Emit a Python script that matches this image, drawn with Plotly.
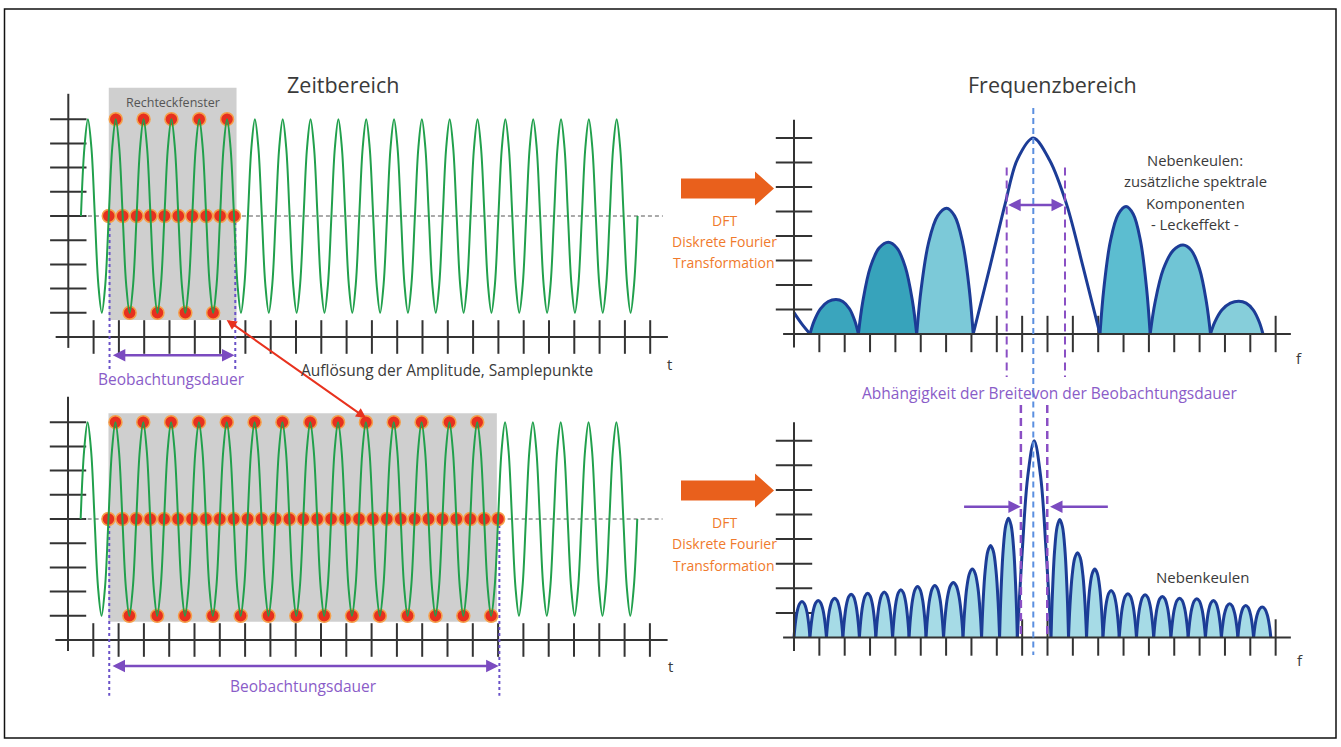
import plotly.graph_objects as go

W, H = 1341, 747
FONT = "Open Sans"

# ======================= data =======================
# --- time domain (axis units: 1 tick = 1) ---
signal_start = 0.5
signal_period = 1.1
signal_periods = 20
wave_levels = [0, 2.83, 4, 2.83, 0, -2.83, -4, -2.83]   # key levels over one period
sample_levels = [0, 4, 0, -4]                          # sampled every quarter period
sample_step = 0.275
window_start = 1.6
window_end_short = 6.55
window_end_long = 17.0
time_ticks = list(range(1, 24))
amp_ticks = [-4, -3, -2, -1, 0, 1, 2, 3, 4]

# --- frequency domain ---
spec_ticks_x = list(range(1, 20))
spec_ticks_y = list(range(1, 9))

# top spectrum (short observation window)
top_tail_f = [0.0, 0.3, 0.63]
top_tail_a = [0.87, 0.42, 0.0]
top_lobe_start = [0.63, 2.54, 4.84, 12.07, 14.05, 16.43]
top_lobe_peak = [1.66, 3.72, 6.02, 13.10, 15.35, 17.55]
top_lobe_end = [2.54, 4.84, 7.07, 14.05, 16.43, 18.50]
top_lobe_height = [1.41, 3.74, 5.13, 5.20, 3.63, 1.34]
top_lobe_fill = ["#3aa5bd", "#37a3bb", "#7cc9d8", "#5cbdd0", "#70c5d5", "#86ceda"]
top_main_f = [7.07, 7.73, 8.32, 8.80, 9.44, 10.08, 10.76, 11.40, 12.07]
top_main_a = [0.0, 2.75, 5.27, 7.10, 8.00, 7.10, 5.27, 2.75, 0.0]

# bottom spectrum (long observation window)
bottom_edges = [0.00, 0.63, 1.28, 1.93, 2.58, 3.23, 3.89, 4.54, 5.21, 5.90, 6.67, 7.40,
                8.11, 8.81, 10.14, 10.83, 11.54, 12.19, 12.83, 13.51, 14.19, 14.87,
                15.55, 16.23, 16.86, 17.51, 18.13, 18.81]
bottom_heights = [1.46, 1.50, 1.60, 1.76, 1.80, 1.85, 1.94, 2.07, 2.11, 2.24, 2.78, 3.74,
                  4.85, 8.00, 4.80, 3.45, 2.78, 1.91, 1.78, 1.74, 1.67, 1.60, 1.58, 1.50,
                  1.37, 1.30, 1.24]
bottom_main_index = 13

# arch profile of a lobe (fraction of half-width -> fraction of height)
lobe_profile_x = [0, 0.15, 0.4, 0.7, 1]
lobe_profile_y = [0, 0.36, 0.73, 0.94, 1]
main_profile_x = [0, 0.3, 0.62, 1]
main_profile_y = [0, 0.45, 0.82, 1]

center_f = 9.44
width_marks_top = [8.39, 10.69]
width_marks_bottom = [8.95, 9.99]

# ======================= styles =======================
AX = "#333333"
GREEN = "#21a04c"
RED = "#e6301f"
PURPLE = "#7b4bc0"
PURPLE_TXT = "#8a5cc8"
BLUE = "#1c3c96"
LBLUE = "#5b8fe0"
ORANGE = "#e9601c"
ORANGE_TXT = "#f07a2c"
GREY_RECT = "#cfcfcf"
TXT = "#3a3a3a"
BOTTOM_FILL = "#a6dbe6"

# panel geometry: (origin px x, px per unit x, origin px y, px per unit y, box L,R,T,B)
PANELS = {
    "tl": (68.3, 25.3, 216.0, 24.2, (20, 690, 60, 392)),
    "bl": (68.0, 25.3, 519.0, 24.2, (20, 690, 392, 725)),
    "tr": (794.0, 25.35, 334.0, 24.5, (775, 1325, 95, 392)),
    "br": (794.0, 25.35, 637.5, 24.6, (775, 1325, 392, 700)),
}
AXIS_IDS = {"tl": ("x", "y"), "bl": ("x2", "y2"), "tr": ("x3", "y3"), "br": ("x4", "y4")}

fig = go.Figure()
layout_axes = {}
for key, (x0, sx, y0, sy, (L, R, T, B)) in PANELS.items():
    xa, ya = AXIS_IDS[key]
    xname = "xaxis" + xa[1:]
    yname = "yaxis" + ya[1:]
    layout_axes[xname] = dict(domain=[L / W, R / W], range=[(L - x0) / sx, (R - x0) / sx],
                              visible=False, fixedrange=True, anchor=ya)
    layout_axes[yname] = dict(domain=[1 - B / H, 1 - T / H], range=[(y0 - B) / sy, (y0 - T) / sy],
                              visible=False, fixedrange=True, anchor=xa)


def px(key, t, u):
    x0, sx, y0, sy, _ = PANELS[key]
    return x0 + sx * t, y0 - sy * u


def add(key, **kw):
    xa, ya = AXIS_IDS[key]
    kw.setdefault("hoverinfo", "skip")
    kw.setdefault("showlegend", False)
    fig.add_trace(go.Scatter(xaxis=xa, yaxis=ya, **kw))


shapes = []
annotations = []


def label(text, x, y, size, color, **kw):
    d = dict(text=text, x=x / W, y=1 - y / H, xref="paper", yref="paper", showarrow=False,
             font=dict(family=FONT, size=size, color=color), xanchor="center", yanchor="middle")
    d.update(kw)
    annotations.append(d)


# ======================= time panels =======================
n_wave = signal_periods * 8 + 1
wave_t = [signal_start + i * signal_period / 8 for i in range(n_wave)]
wave_u = [wave_levels[i % 8] for i in range(n_wave)]

for key, w_end, rect_end, rect_lo, rect_hi, dash_low, arrow_u, lbl_y in [
    ("tl", window_end_short, window_end_short + 0.1, -4.3, 5.3, -6.45, -5.75, 379),
    ("bl", window_end_long, window_end_long - 0.05, -4.25, 4.37, -7.3, -6.07, 686),
]:
    xa, ya = AXIS_IDS[key]
    shapes.append(dict(type="rect", xref=xa, yref=ya, x0=window_start, x1=rect_end,
                       y0=rect_lo, y1=rect_hi, fillcolor=GREY_RECT, line=dict(width=0),
                       layer="below"))
    # ticks
    add(key, x=time_ticks, y=[-5] * len(time_ticks), mode="markers",
        marker=dict(symbol="line-ns", size=24, line=dict(width=2, color=AX)))
    add(key, x=[0] * len(amp_ticks), y=amp_ticks, mode="markers",
        marker=dict(symbol="line-ew", size=26, line=dict(width=2, color=AX)))
    # axis lines
    add(key, x=[-0.5, 23.7], y=[-5, -5], mode="lines", line=dict(color=AX, width=2))
    add(key, x=[0, 0], y=[5.05, -5.45], mode="lines", line=dict(color=AX, width=2))
    # zero dashed line
    add(key, x=[signal_start, 23.5], y=[0, 0], mode="lines",
        line=dict(color="#555555", width=1, dash="4px,3px"))
    # observation window markers
    for xv in (window_start + 0.03, w_end + 0.05):
        add(key, x=[xv, xv], y=[0, dash_low], mode="lines",
            line=dict(color="#6a52c8", width=2, dash="3px,3px"))
    # samples
    n_s = round((w_end - window_start) / sample_step) + 1
    s_t = [window_start + i * sample_step for i in range(n_s)]
    s_u = [sample_levels[i % 4] for i in range(n_s)]
    add(key, x=s_t, y=s_u, mode="markers",
        marker=dict(size=13, color=RED, line=dict(color="#f5a04a", width=1.5)))
    # signal
    add(key, x=wave_t, y=wave_u, mode="lines",
        line=dict(color=GREEN, width=2, shape="spline", smoothing=1.0))
    # duration arrow
    annotations.append(dict(xref=xa, yref=ya, axref=xa, ayref=ya, x=w_end + 0.02, y=arrow_u,
                            ax=window_start + 0.1, ay=arrow_u, text="", showarrow=True,
                            arrowhead=2, arrowside="end+start", arrowsize=1, arrowwidth=2.5,
                            arrowcolor=PURPLE, standoff=0, startstandoff=0))
    lx, _ = px(key, (window_start + w_end) / 2, 0)
    label("Beobachtungsdauer", lx, lbl_y, 15.5, PURPLE_TXT)

annotations.append(dict(xref="x", yref="y", x=(window_start + window_end_short + 0.1) / 2, y=4.67,
                        text="Rechteckfenster", showarrow=False,
                        font=dict(family=FONT, size=12.5, color="#555555")))

# red double arrow between the two sampled signals
tip = px("bl", 11.78, 4.17)
tail = px("tl", 6.2, -4.25)
annotations.append(dict(xref="x2", yref="y2", x=11.78, y=4.17, ax=tail[0] - tip[0],
                        ay=tail[1] - tip[1], text="", showarrow=True, arrowhead=2,
                        arrowside="end+start", arrowsize=1, arrowwidth=2, arrowcolor="#e8321e",
                        standoff=0, startstandoff=0))


# ======================= spectrum panels =======================
def lobe_xy(start, peak, end, h, prof_x, prof_y):
    xs = [start + (peak - start) * p for p in prof_x]
    ys = [h * q for q in prof_y]
    xs += [end - (end - peak) * p for p in reversed(prof_x[:-1])]
    ys += [h * q for q in reversed(prof_y[:-1])]
    return xs, ys


for key in ("tr", "br"):
    add(key, x=spec_ticks_x, y=[0] * len(spec_ticks_x), mode="markers",
        marker=dict(symbol="line-ns", size=26, line=dict(width=2, color=AX)))
    add(key, x=[0] * len(spec_ticks_y), y=spec_ticks_y, mode="markers",
        marker=dict(symbol="line-ew", size=26, line=dict(width=2, color=AX)))

# top spectrum
add("tr", x=top_tail_f, y=top_tail_a, mode="lines",
    line=dict(color=BLUE, width=3, shape="spline"))
for s, p, e, h, c in zip(top_lobe_start, top_lobe_peak, top_lobe_end, top_lobe_height, top_lobe_fill):
    xs, ys = lobe_xy(s, p, e, h, lobe_profile_x, lobe_profile_y)
    add("tr", x=xs, y=ys, mode="lines", fill="tozeroy", fillcolor=c,
        line=dict(color=BLUE, width=3, shape="spline", smoothing=1.0))
add("tr", x=top_main_f, y=top_main_a, mode="lines",
    line=dict(color=BLUE, width=3, shape="spline", smoothing=0.9))

# bottom spectrum
for i, h in enumerate(bottom_heights):
    s, e = bottom_edges[i], bottom_edges[i + 1]
    if i == bottom_main_index:
        xs, ys = lobe_xy(s, (s + e) / 2, e, h, main_profile_x, main_profile_y)
        add("br", x=xs, y=ys, mode="lines", line=dict(color=BLUE, width=3, shape="spline"))
    else:
        xs, ys = lobe_xy(s, (s + e) / 2, e, h, lobe_profile_x, lobe_profile_y)
        add("br", x=xs, y=ys, mode="lines", fill="tozeroy", fillcolor=BOTTOM_FILL,
            line=dict(color=BLUE, width=3, shape="spline", smoothing=1.0))

for key in ("tr", "br"):
    add(key, x=[-0.43, 19.6], y=[0, 0], mode="lines", line=dict(color=AX, width=2))
    add(key, x=[0, 0], y=[-0.55, 8.75], mode="lines", line=dict(color=AX, width=2))

# centre line and width markers
add("tr", x=[center_f, center_f], y=[9.22, -2.4], mode="lines",
    line=dict(color=LBLUE, width=2, dash="6px,4px"))
add("br", x=[center_f, center_f], y=[10.0, -0.71], mode="lines",
    line=dict(color=LBLUE, width=2, dash="6px,4px"))
for xv in width_marks_top:
    add("tr", x=[xv, xv], y=[6.8, -1.76], mode="lines",
        line=dict(color="#8a4fc4", width=2, dash="8px,5px"))
for xv in width_marks_bottom:
    add("br", x=[xv, xv], y=[9.45, 0.0], mode="lines",
        line=dict(color="#8a4fc4", width=2.5, dash="8px,5px"))

annotations.append(dict(xref="x3", yref="y3", axref="x3", ayref="y3", x=10.65, y=5.27,
                        ax=8.39, ay=5.27, text="", showarrow=True, arrowhead=2,
                        arrowside="end+start", arrowsize=1, arrowwidth=2.5, arrowcolor=PURPLE,
                        standoff=0, startstandoff=0))
annotations.append(dict(xref="x4", yref="y4", axref="x4", ayref="y4", x=8.95, y=5.32,
                        ax=6.65, ay=5.32, text="", showarrow=True, arrowhead=2, arrowsize=1,
                        arrowwidth=2.5, arrowcolor=PURPLE, standoff=0))
annotations.append(dict(xref="x4", yref="y4", axref="x4", ayref="y4", x=10.1, y=5.32,
                        ax=12.44, ay=5.32, text="", showarrow=True, arrowhead=2, arrowsize=1,
                        arrowwidth=2.5, arrowcolor=PURPLE, standoff=0))

# ======================= texts =======================
label("Zeitbereich", 343, 85, 21.5, TXT)
label("Frequenzbereich", 1052, 85, 21.5, TXT)
label("t", 669, 364, 15, TXT)
label("t", 670, 666, 15, TXT)
label("f", 1299, 358, 15, TXT)
label("f", 1300, 660, 15, TXT)
label("Auflösung der Amplitude, Samplepunkte", 447, 370, 15.5, TXT)
for i, line in enumerate(["Nebenkeulen:", "zusätzliche spektrale", "Komponenten", "- Leckeffekt -"]):
    label(line, 1195, 160 + 21.3 * i, 14.8, TXT)
label("Nebenkeulen", 1202, 577, 15, TXT)
label("Abhängigkeit der Breitevon der Beobachtungsdauer", 1050, 393, 15.5, PURPLE_TXT)
for dy in (0, 302):
    for i, line in enumerate(["DFT", "Diskrete Fourier", "Transformation"]):
        label(line, 724, 220 + dy + 21.5 * i, 14, ORANGE_TXT)


# ======================= orange block arrows & frame =======================
def ppath(points):
    return "M " + " L ".join(f"{x / W:.5f},{1 - y / H:.5f}" for x, y in points) + " Z"


for cy in (188.5, 490.5):
    pts = [(681, cy - 10), (755, cy - 10), (755, cy - 17), (774, cy), (755, cy + 17),
           (755, cy + 10), (681, cy + 10)]
    shapes.append(dict(type="path", path=ppath(pts), xref="paper", yref="paper",
                       fillcolor=ORANGE, line=dict(width=0)))

shapes.append(dict(type="rect", xref="paper", yref="paper", x0=4.5 / W, x1=1336 / W,
                   y0=1 - 738 / H, y1=1 - 9 / H, line=dict(color="#111111", width=1.5)))

fig.update_layout(
    width=W, height=H, margin=dict(l=0, r=0, t=0, b=0),
    paper_bgcolor="white", plot_bgcolor="rgba(0,0,0,0)",
    showlegend=False, shapes=shapes, annotations=annotations,
    font=dict(family=FONT), **layout_axes,
)
fig.write_html("out.html", config={"displayModeBar": False})
